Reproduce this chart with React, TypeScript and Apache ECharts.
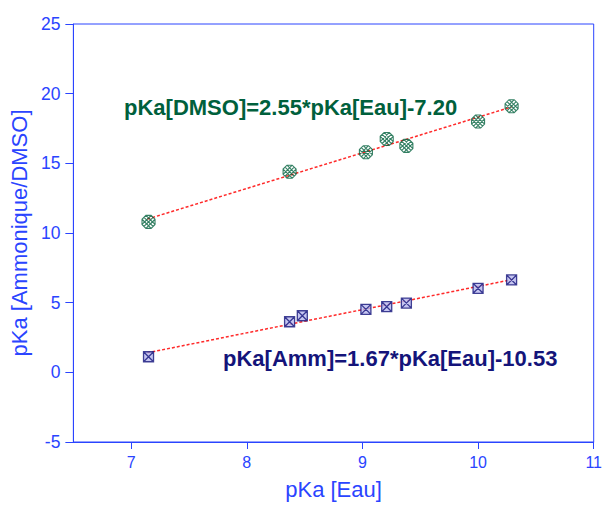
import React, { useEffect, useRef } from "react";
import * as echarts from "echarts";

const dmsoX = [7.15, 8.37, 9.03, 9.21, 9.38, 10.0, 10.29];
const dmsoY = [10.8, 14.4, 15.8, 16.75, 16.25, 18.0, 19.1];
const ammX = [7.15, 8.37, 8.48, 9.03, 9.21, 9.38, 10.0, 10.29];
const ammY = [1.12, 3.63, 4.06, 4.52, 4.71, 4.97, 6.03, 6.63];
const dmsoFitX = [7.14, 10.29];
const dmsoFitY = [11.0, 19.05];
const ammFitX = [7.14, 10.29];
const ammFitY = [1.4, 6.65];
const xTicks = [7, 8, 9, 10, 11];
const dmsoLabel = "pKa[DMSO]=2.55*pKa[Eau]-7.20";
const ammLabel = "pKa[Amm]=1.67*pKa[Eau]-10.53";

const AXIS = "#2a44ff";
const GREEN = "#00603c";
const NAVY = "#14147a";
const RED = "#ff2a2a";
const FONT = "'Liberation Sans', Arial, sans-serif";

const zip = (xs: number[], ys: number[]) => xs.map((x, i) => [x, ys[i]]);

export default function App() {
  const ref = useRef<HTMLDivElement>(null);
  useEffect(() => {
    if (!ref.current) return;
    const chart = echarts.init(ref.current, null, { renderer: "svg" });
    chart.setOption({
      animation: false,
      backgroundColor: "#ffffff",
      grid: {
        left: 73,
        right: 11,
        top: 24,
        bottom: 65,
        show: true,
        borderColor: AXIS,
        borderWidth: 1,
        backgroundColor: "transparent",
      },
      xAxis: {
        type: "value",
        min: 6.5,
        max: 11,
        name: "pKa [Eau]",
        nameLocation: "middle",
        nameGap: 36,
        nameTextStyle: { color: AXIS, fontSize: 22, fontFamily: FONT },
        axisLine: { show: true, onZero: false, lineStyle: { color: AXIS, width: 1 } },
        axisTick: { show: true, length: 7, lineStyle: { color: AXIS }, customValues: xTicks },
        axisLabel: { color: AXIS, fontSize: 16, fontFamily: FONT, margin: 12, customValues: xTicks },
        splitLine: { show: false },
      },
      yAxis: {
        type: "value",
        min: -5,
        max: 25,
        interval: 5,
        name: "pKa [Ammonique/DMSO]",
        nameLocation: "middle",
        nameGap: 40,
        nameTextStyle: { color: AXIS, fontSize: 22, fontFamily: FONT },
        axisLine: { show: true, onZero: false, lineStyle: { color: AXIS, width: 1 } },
        axisTick: { show: true, length: 8, lineStyle: { color: AXIS } },
        axisLabel: { color: AXIS, fontSize: 17.5, fontFamily: FONT, margin: 13 },
        splitLine: { show: false },
      },
      series: [
        {
          type: "line",
          data: zip(dmsoFitX, dmsoFitY),
          symbol: "none",
          lineStyle: { color: RED, width: 1.5, type: [3, 2] },
          z: 2,
        },
        {
          type: "line",
          data: zip(ammFitX, ammFitY),
          symbol: "none",
          lineStyle: { color: RED, width: 1.5, type: [3, 2] },
          z: 2,
        },
        {
          type: "scatter",
          data: zip(dmsoX, dmsoY),
          symbol:
            "path://M3,0L7,0L10,3L10,7L7,10L3,10L0,7L0,3Z M0,3L7,10 M3,0L10,7 M0,7L7,0 M3,10L10,3 M1.5,1.5L8.5,8.5 M8.5,1.5L1.5,8.5",
          symbolSize: 13,
          itemStyle: { color: "rgba(0,0,0,0)", borderColor: GREEN, borderWidth: 1.1 },
          z: 3,
        },
        {
          type: "scatter",
          data: zip(ammX, ammY),
          symbol: "path://M0,0L10,0L10,10L0,10Z M0,0L10,10 M10,0L0,10",
          symbolSize: 10,
          itemStyle: { color: "#b8b8ee", borderColor: NAVY, borderWidth: 1.3 },
          z: 3,
        },
      ],
      graphic: [
        {
          type: "text",
          left: 124,
          top: 96,
          style: {
            text: dmsoLabel,
            fill: GREEN,
            font: `bold 22px ${FONT}`,
          },
        },
        {
          type: "text",
          left: 223,
          top: 347,
          style: {
            text: ammLabel,
            fill: NAVY,
            font: `bold 22px ${FONT}`,
          },
        },
      ],
    });
    return () => chart.dispose();
  }, []);
  return (
    <div
      ref={ref}
      style={{ position: "fixed", left: 0, top: 0, width: 605, height: 507 }}
    />
  );
}
